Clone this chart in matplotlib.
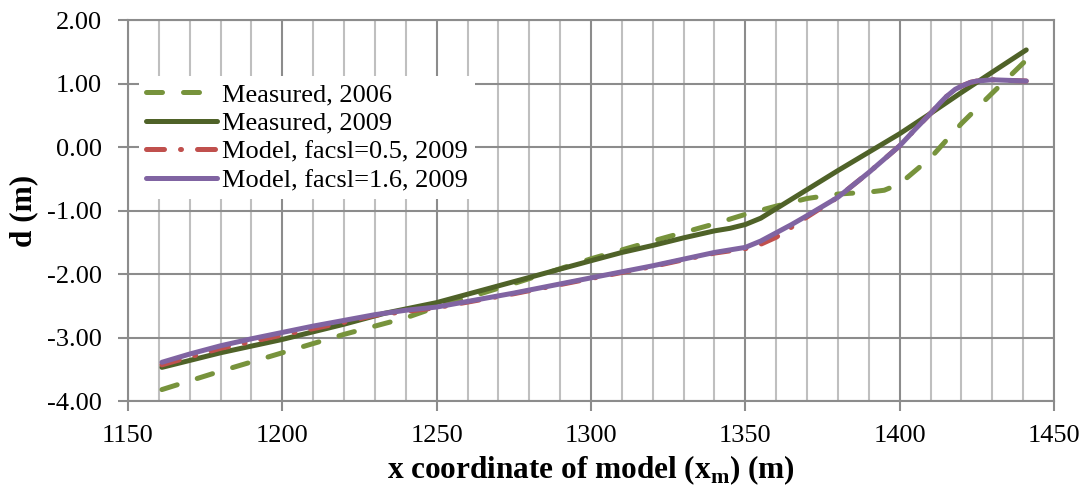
import numpy as np
import matplotlib.pyplot as plt
from matplotlib.ticker import MultipleLocator, FormatStrFormatter

plt.rcParams['font.family'] = ['Liberation Serif', 'DejaVu Serif']
plt.rcParams['axes.unicode_minus'] = False

# Bed level profiles (x in m, d in m)
x_meas06 = [1161, 1180, 1200, 1220, 1240, 1250, 1275, 1300, 1320, 1340, 1350,
            1360, 1370, 1380, 1390, 1395, 1400, 1410, 1420, 1430, 1441]
d_meas06 = [-3.82, -3.53, -3.24, -2.95, -2.69, -2.52, -2.15, -1.76, -1.48, -1.21, -1.06,
            -0.93, -0.81, -0.74, -0.71, -0.68, -0.58, -0.17, 0.37, 0.85, 1.37]

x_meas09 = [1161, 1180, 1200, 1220, 1233, 1250, 1275, 1300, 1310, 1320, 1330, 1340,
            1345, 1350, 1355, 1360, 1370, 1380, 1390, 1400, 1410, 1420, 1430, 1441]
d_meas09 = [-3.47, -3.24, -3.03, -2.79, -2.62, -2.45, -2.12, -1.79, -1.66, -1.55, -1.43, -1.32,
            -1.28, -1.22, -1.12, -0.97, -0.67, -0.37, -0.08, 0.21, 0.53, 0.86, 1.18, 1.53]

x_mod05 = [1161, 1180, 1200, 1220, 1230, 1250, 1275, 1300, 1320, 1340, 1350,
           1355, 1360, 1365, 1370, 1380, 1390, 1400, 1405, 1410, 1413, 1415, 1418,
           1420, 1423, 1425, 1430, 1441]
d_mod05 = [-3.43, -3.17, -2.96, -2.76, -2.65, -2.53, -2.31, -2.07, -1.88, -1.67, -1.60,
           -1.53, -1.42, -1.26, -1.10, -0.79, -0.40, 0.02, 0.28, 0.53, 0.69, 0.79, 0.91,
           0.96, 1.02, 1.04, 1.06, 1.04]

x_mod16 = [1161, 1170, 1180, 1190, 1200, 1210, 1220, 1230, 1240, 1250, 1275, 1300,
           1320, 1340, 1350, 1355, 1360, 1365, 1370, 1380, 1390, 1400, 1405, 1410,
           1413, 1415, 1418, 1420, 1423, 1425, 1430, 1441]
d_mod16 = [-3.39, -3.26, -3.13, -3.02, -2.92, -2.82, -2.73, -2.64, -2.57, -2.52, -2.30, -2.06,
           -1.87, -1.66, -1.58, -1.48, -1.35, -1.22, -1.08, -0.79, -0.40, 0.02, 0.28, 0.53,
           0.69, 0.79, 0.91, 0.96, 1.02, 1.04, 1.06, 1.04]

fig, ax = plt.subplots(figsize=(10.9, 4.9), dpi=100)
fig.subplots_adjust(left=0.1174, right=0.967, top=0.959, bottom=0.1816)

ax.plot(x_meas06, d_meas06, color='#77933C', lw=3.6, dashes=(3.2, 4.2),
        dash_capstyle='round', label='Measured, 2006', zorder=3)
ax.plot(x_meas09, d_meas09, color='#4F6228', lw=3.6, solid_capstyle='round',
        label='Measured, 2009', zorder=3)
ax.plot(x_mod05, d_mod05, color='#C0504D', lw=3.6, dashes=(3.6, 3.2, 0.2, 3.2),
        dash_capstyle='round', label='Model, facsl=0.5, 2009', zorder=3)
ax.plot(x_mod16, d_mod16, color='#8064A2', lw=3.6, solid_capstyle='round',
        label='Model, facsl=1.6, 2009', zorder=4)

ax.set_xlim(1150, 1450)
ax.set_ylim(-4, 2)
ax.xaxis.set_major_locator(MultipleLocator(50))
ax.xaxis.set_minor_locator(MultipleLocator(10))
ax.yaxis.set_major_locator(MultipleLocator(1))
ax.yaxis.set_major_formatter(FormatStrFormatter('%.2f'))

ax.grid(which='major', color='#8c8c8c', lw=1.5, zorder=1)
ax.grid(which='minor', axis='x', color='#bfbfbf', lw=1.5, zorder=1)
ax.set_axisbelow(True)
for s in ax.spines.values():
    s.set_color('#8c8c8c')
    s.set_linewidth(1.5)
ax.tick_params(which='major', direction='out', length=7, width=1.5, color='#8c8c8c',
               labelsize=19)
ax.tick_params(axis='x', pad=10)
ax.tick_params(axis='y', pad=12)
ax.tick_params(which='minor', length=0)

ax.set_xlabel('x coordinate of model (x$_\\mathregular{m}$) (m)', fontsize=22.5,
              fontweight='bold', labelpad=5)
ax.set_ylabel('d (m)', fontsize=22.5, fontweight='bold', labelpad=6)

leg = ax.legend(loc='upper left', bbox_to_anchor=(0.012, 0.853), fontsize=19,
                frameon=True, fancybox=False, edgecolor='none', framealpha=1,
                handlelength=2.7, handletextpad=0.2, labelspacing=0.2,
                borderpad=0.25, borderaxespad=0)
leg.set_zorder(5)

fig.savefig('out.png', dpi=100)
